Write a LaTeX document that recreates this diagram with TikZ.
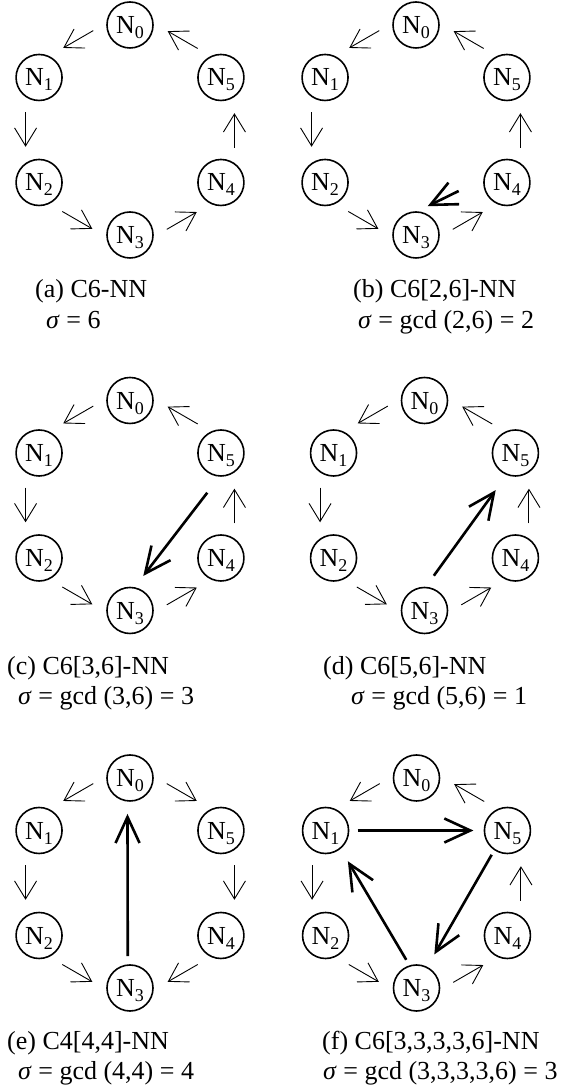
\documentclass[tikz,border=0pt]{standalone}
\usepackage{fontspec}
\setmainfont{Liberation Serif}
\usetikzlibrary{arrows.meta,calc}
\tikzset{
  nn/.style={circle,draw,line width=1.6pt,minimum size=46pt,inner sep=0pt,font=\fontsize{26}{26}\selectfont},
  thinarr/.style={line width=0.9pt,-{Straight Barb[length=18pt,width=22pt]}},
  thickarr/.style={line width=2.6pt,-{Straight Barb[length=26pt,width=24pt]}},
  lbl/.style={anchor=base west,inner sep=0pt,font=\fontsize{26}{30}\selectfont},
}
\newcommand\Nsub[1]{N\raisebox{-5pt}[0pt][0pt]{\fontsize{18}{18}\selectfont #1}}
\newcommand\hexnodes[3]{%
  \foreach \i/\a in {0/90,1/150,2/210,3/270,4/330,5/30}{
    \node[nn] (#1\i) at ($(#2,#3)+(\a:105)$) {\Nsub{\i}};
  }}
\newcommand\chordarr[3]{\draw[thinarr] ($(#1)!0.33!(#2)!13.5pt!#3:(#2)$) -- ($(#1)!0.66!(#2)!13.5pt!#3:(#2)$);}
\newcommand\ringccw[1]{%
  \chordarr{#10}{#11}{-90}\chordarr{#11}{#12}{-90}\chordarr{#12}{#13}{-90}%
  \chordarr{#13}{#14}{-90}\chordarr{#14}{#15}{-90}\chordarr{#15}{#10}{-90}}
\begin{document}
\begin{tikzpicture}[x=1pt,y=1pt]
\useasboundingbox (0,0) rectangle (572,1091);
% panel a
\hexnodes{a}{130}{961}
\ringccw{a}
\node[lbl] (la1) at (35,793) {(a) C6-NN};
\node[lbl] (la2) at (46,762) {\textit{σ} = 6};
% panel b
\hexnodes{b}{416}{961}
\ringccw{b}
\draw[thickarr] ($(b4)+(190:49)$) -- ($(b3)+(68:31)$);
\node[lbl] (lb1) at (353,793) {(b) C6[2,6]-NN};
\node[lbl] (lb2) at (358,762) {\textit{σ} = gcd (2,6) = 2};
% panel c
\hexnodes{c}{130}{585.5}
\ringccw{c}
\draw[thickarr] ($(c5)+(251:42)$) -- ($(c3)+(69:37)$);
\node[lbl] (lc1) at (7,416) {(c) C6[3,6]-NN};
\node[lbl] (lc2) at (18,386) {\textit{σ} = gcd (3,6) = 3};
% panel d
\hexnodes{d}{424.5}{585.5}
\ringccw{d}
\draw[thickarr] ($(d3)+(75:36)$) -- ($(d5)+(242:42)$);
\node[lbl] (ld1) at (323,416) {(d) C6[5,6]-NN};
\node[lbl] (ld2) at (351,386) {\textit{σ} = gcd (5,6) = 1};
% panel e
\hexnodes{e}{130}{208}
\chordarr{e0}{e1}{-90}\chordarr{e1}{e2}{-90}\chordarr{e2}{e3}{-90}
\chordarr{e0}{e5}{90}\chordarr{e5}{e4}{90}\chordarr{e4}{e3}{90}
\draw[thickarr] ($(e3)+(94:32)$) -- ($(e0)+(266:36)$);
\node[lbl] (le1) at (7,41) {(e) C4[4,4]-NN};
\node[lbl] (le2) at (18,12) {\textit{σ} = gcd (4,4) = 4};
% panel f
\hexnodes{f}{416.5}{208}
\ringccw{f}
\draw[thickarr] ($(f1)+(0:32)$) -- ($(f5)+(180:34)$);
\draw[thickarr] ($(f5)+(237:29)$) -- ($(f3)+(62:38)$);
\draw[thickarr] ($(f3)+(110:30)$) -- ($(f1)+(306:38)$);
\node[lbl] (lf1) at (322,41) {(f) C6[3,3,3,3,6]-NN};
\node[lbl] (lf2) at (323,12) {\textit{σ} = gcd (3,3,3,3,6) = 3};
\end{tikzpicture}
\end{document}
